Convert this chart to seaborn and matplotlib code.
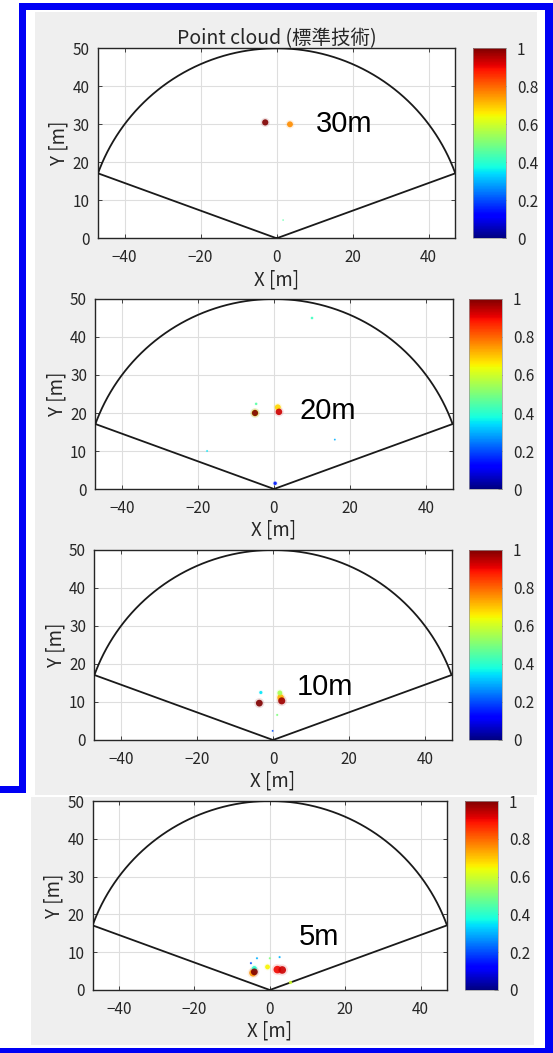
import numpy as np
import pandas as pd
import matplotlib
matplotlib.use("Agg")
import matplotlib.pyplot as plt
import seaborn as sns
from matplotlib.patches import Rectangle
from matplotlib.cm import ScalarMappable
from matplotlib.colors import Normalize

W, H = 553, 1053

# Sensor field of view: 50 m range, edges 20 deg above the x axis
fov_radius = 50.0
fov_edge_deg = 20.0

title = "Point cloud (標準技術)"
distance_labels = ["30m", "20m", "10m", "5m"]
label_x = [10.3, 6.6, 6.3, 7.8]
label_y = [30.1, 20.5, 14.0, 14.0]

x_ticks = [-40, -20, 0, 20, 40]
y_ticks = [0, 10, 20, 30, 40, 50]
cbar_ticks = [0, 0.2, 0.4, 0.6, 0.8, 1.0]
cbar_tick_labels = ["0", "0.2", "0.4", "0.6", "0.8", "1"]

# Detections per scene: position [m], normalized intensity, marker size
x_30 = [-3.0, 3.5, 1.7]
y_30 = [30.5, 30.0, 4.8]
v_30 = [1.0, 0.76, 0.45]
s_30 = [20, 18, 1.0]

x_20 = [-5.0, -5.0, 1.0, 1.3, -4.7, 16.0, -17.6, 0.3, 10.0]
y_20 = [20.0, 20.0, 21.5, 20.3, 22.4, 13.0, 10.0, 1.5, 45.0]
v_20 = [0.62, 1.0, 0.68, 0.93, 0.45, 0.3, 0.35, 0.15, 0.42]
s_20 = [24, 20, 18, 22, 3, 1.5, 1.5, 6, 3]

x_10 = [-3.6, 2.0, 2.3, 1.8, -3.2, 1.1, -0.1]
y_10 = [9.7, 11.2, 10.3, 12.4, 12.5, 6.6, 2.4]
v_10 = [1.0, 0.72, 0.97, 0.55, 0.35, 0.5, 0.2]
s_10 = [24, 22, 26, 12, 5, 2, 1.5]

x_5 = [-4.5, -4.1, -4.1, -0.6, 2.0, 3.3, -3.4, 0.0, 2.6, -5.0, 5.5]
y_5 = [4.5, 5.7, 4.8, 6.1, 5.4, 5.3, 8.4, 8.4, 8.7, 7.1, 2.0]
v_5 = [0.75, 0.4, 1.0, 0.65, 0.9, 0.93, 0.3, 0.5, 0.3, 0.2, 0.6]
s_5 = [26, 12, 24, 12, 30, 30, 2, 2, 2, 2, 5]

scenes = [
    (x_30, y_30, v_30, s_30),
    (x_20, y_20, v_20, s_20),
    (x_10, y_10, v_10, s_10),
    (x_5, y_5, v_5, s_5),
]

# Panel geometry in pixels: (left, top, right, bottom)
axes_px = [(98, 48.3, 455.3, 238.3), (95.4, 299, 452.6, 489),
           (94.4, 550, 451.6, 740), (92.6, 801, 447, 990)]
cbar_px = [(473, 48.3, 506, 238.3), (469, 299, 502, 489),
           (469, 550, 502, 740), (465, 801, 498, 990)]
panel_bg_px = [(35, 12, 537, 292), (35, 292, 537, 545),
               (35, 545, 537, 795), (31, 797, 534, 1045)]

sns.set_theme(style="white")
plt.rcParams["font.family"] = ["Noto Sans CJK JP", "DejaVu Sans"]
ink = "#262626"
jet = matplotlib.colormaps["jet"]


def fig_rect(px):
    l, t, r, b = px
    return [l / W, 1 - b / H, (r - l) / W, (b - t) / H]


fig = plt.figure(figsize=(W / 100, H / 100), dpi=100, facecolor="white")

# panel backgrounds
for px in panel_bg_px:
    l, b, w, h = fig_rect(px)
    fig.add_artist(Rectangle((l, b), w, h, transform=fig.transFigure,
                             facecolor="#efefef", edgecolor="none", zorder=-10))

# field-of-view outline
theta = np.radians(np.linspace(fov_edge_deg, 180 - fov_edge_deg, 300))
fov = pd.DataFrame({
    "x": np.concatenate([[0.0], fov_radius * np.cos(theta), [0.0]]),
    "y": np.concatenate([[0.0], fov_radius * np.sin(theta), [0.0]]),
})
x_lim = fov_radius * np.cos(np.radians(fov_edge_deg))

norm = Normalize(0, 1)
for i, (xs, ys, vs, ss) in enumerate(scenes):
    ax = fig.add_axes(fig_rect(axes_px[i]))
    ax.set_facecolor("white")
    df = pd.DataFrame({"x": xs, "y": ys, "v": vs, "s": ss})

    sns.lineplot(data=fov, x="x", y="y", sort=False, estimator=None,
                 color="#1a1a1a", linewidth=1.3, ax=ax, zorder=3)
    # soft halo, then the point core
    sns.scatterplot(data=df, x="x", y="y", hue="v", palette=jet,
                    hue_norm=(0, 1), s=df["s"].values * 2.2, alpha=0.12,
                    linewidth=0, legend=False, ax=ax, zorder=4)
    sns.scatterplot(data=df, x="x", y="y", hue="v", palette=jet,
                    hue_norm=(0, 1), s=df["s"].values, alpha=0.9,
                    linewidth=0, legend=False, ax=ax, zorder=5)

    ax.set_xlim(-x_lim, x_lim)
    ax.set_ylim(0, fov_radius)
    ax.set_xticks(x_ticks)
    ax.set_yticks(y_ticks)
    ax.grid(True, color="#dedede", linewidth=0.8)
    ax.set_axisbelow(True)
    ax.tick_params(direction="in", length=3, width=0.6, colors=ink,
                   labelsize=11, top=True, right=True,
                   bottom=True, left=True)
    ax.tick_params(axis="x", pad=8)
    ax.tick_params(axis="y", pad=6)
    for sp in ax.spines.values():
        sp.set_color(ink)
        sp.set_linewidth(1.0)
        sp.set_visible(True)
    ax.set_xlabel("X [m]", fontsize=13.5, color=ink, labelpad=2)
    ax.set_ylabel("Y [m]", fontsize=13.5, color=ink, labelpad=2)
    ax.text(label_x[i], label_y[i], distance_labels[i], fontsize=21,
            family=["Liberation Sans", "DejaVu Sans"], color="black",
            ha="left", va="center", zorder=6)
    if i == 0:
        ax.set_title(title, fontsize=14, color=ink, pad=3)

    cax = fig.add_axes(fig_rect(cbar_px[i]))
    cb = fig.colorbar(ScalarMappable(norm=norm, cmap=jet), cax=cax,
                      ticks=cbar_ticks)
    cb.set_ticklabels(cbar_tick_labels)
    cb.outline.set_linewidth(0.5)
    cb.outline.set_edgecolor("#999999")
    cax.tick_params(direction="in", length=3, width=0.5, colors=ink,
                    labelsize=11, pad=8)

# blue frame
blue = "#0000f5"
frame_px = [
    (19, 3, 553, 10),      # top
    (19, 3, 26, 793),      # left, upper part
    (0, 786, 26, 793),     # step to the left edge
    (545, 3, 553, 1053),   # right
    (0, 1048, 553, 1053),  # bottom
]
for px in frame_px:
    l, b, w, h = fig_rect(px)
    fig.add_artist(Rectangle((l, b), w, h, transform=fig.transFigure,
                             facecolor=blue, edgecolor="none", zorder=20))

fig.savefig("out.png", dpi=100, facecolor="white")
